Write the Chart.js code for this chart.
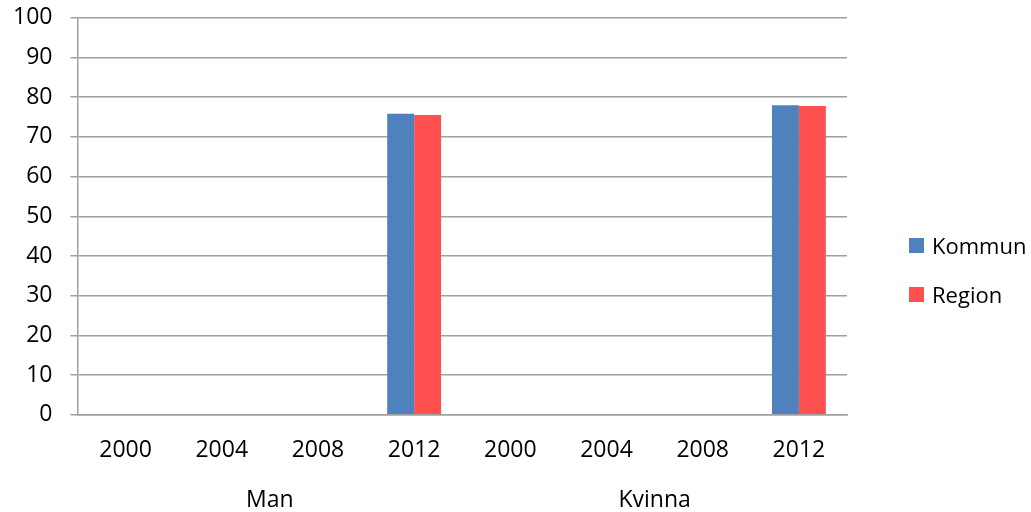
<!DOCTYPE html>
<html>
<head>
<meta charset="utf-8">
<script src="https://cdn.jsdelivr.net/npm/chart.js@4/dist/chart.umd.min.js"></script>
<style>
  body { margin: 0; background: #fff; }
  #wrap { position: relative; width: 1031px; height: 512px; overflow: hidden; }
  #myChart { position: absolute; left: -5px; top: -14px; }
  #legend { position: absolute; left: 909px; top: 230px; font-family: "Open Sans", sans-serif; font-size: 22px; color: #000; }
  #legend div { display: flex; align-items: center; height: 30px; margin-bottom: 19px; }
  #legend span.box { width: 15px; height: 15px; margin-right: 8px; display: inline-block; }
</style>
</head>
<body>
<div id="wrap">
  <canvas id="myChart" width="1036" height="528"></canvas>
  <div id="legend"></div>
</div>
<script>
// data
var years = ['2000', '2004', '2008', '2012', '2000', '2004', '2008', '2012']
var groups = ['Man', 'Kvinna']
var kommun = [null, null, null, 75.8, null, null, null, 78.0]
var region = [null, null, null, 75.5, null, null, null, 77.8]
var seriesNames = ['Kommun', 'Region']
var seriesColors = ['#4F81BD', '#FF5050']

var gridColor = '#A0A0A0'
var font = { family: '"Open Sans", sans-serif', size: 23 }

// canvas is shifted up/left a little so the plot lands where the original has it
var ctx = document.getElementById('myChart').getContext('2d');
var myChart = new Chart(ctx, {
    type: 'bar',
    data: {
        labels: years,
        datasets: [
            { label: seriesNames[0], data: kommun, backgroundColor: seriesColors[0], borderWidth: 0 },
            { label: seriesNames[1], data: region, backgroundColor: seriesColors[1], borderWidth: 0 }
        ]
    },
    options: {
        responsive: false,
        animation: false,
        devicePixelRatio: 1,
        layout: { padding: { left: 0, right: 184, top: 0, bottom: 0 } },
        datasets: { bar: { categoryPercentage: 0.56, barPercentage: 1 } },
        plugins: {
            legend: { display: false },
            tooltip: { enabled: false }
        },
        scales: {
            x: {
                grid: { display: false, drawTicks: false },
                border: { display: true, color: gridColor, width: 1.5 },
                ticks: { color: '#000', font: font, padding: 22, maxRotation: 0, autoSkip: false }
            },
            x2: {
                type: 'category',
                labels: groups,
                offset: true,
                position: 'bottom',
                grid: { display: false, drawTicks: false },
                border: { display: false },
                ticks: { color: '#000', font: font, padding: 0 }
            },
            y: {
                min: 0,
                max: 100,
                ticks: { stepSize: 10, color: '#000', font: font, padding: 18 },
                grid: { color: gridColor, lineWidth: 1.5, tickLength: 7 },
                border: { color: gridColor, width: 1.5 }
            }
        }
    }
});

// legend as plain html text
var legend = document.getElementById('legend');
seriesNames.forEach(function (name, i) {
    var row = document.createElement('div');
    var box = document.createElement('span');
    box.className = 'box';
    box.style.background = seriesColors[i];
    row.appendChild(box);
    row.appendChild(document.createTextNode(name));
    legend.appendChild(row);
});
</script>
</body>
</html>
